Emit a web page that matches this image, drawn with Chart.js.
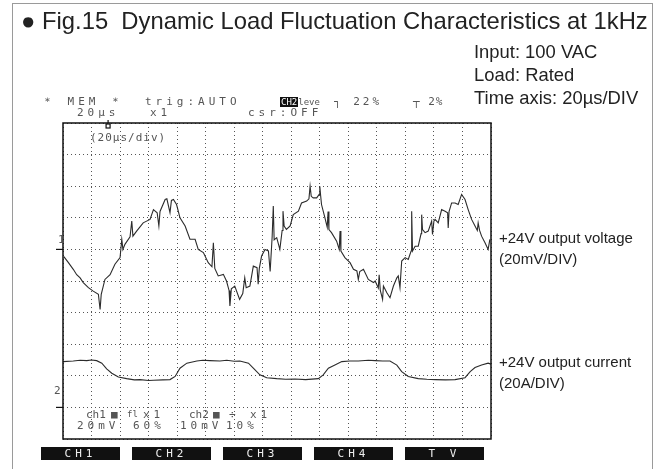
<!DOCTYPE html>
<html>
<head>
<meta charset="utf-8">
<script src="https://cdn.jsdelivr.net/npm/chart.js@4"></script>
<style>
  body { margin: 0; background: #fff; }
  #page { position: relative; width: 661px; height: 469px; overflow: hidden; font-family: "Liberation Sans", Arial, sans-serif; color: #222; }
  #frame { position: absolute; left: 12px; top: 3px; width: 641px; height: 480px; border: 1.5px solid #9a9a9a; box-sizing: border-box; }
  canvas { position: absolute; left: 0; top: 0; }
  .t { position: absolute; white-space: nowrap; }
  .scope { position: absolute; white-space: nowrap; font-family: "DejaVu Sans Mono", monospace; font-size: 11px; color: #555; letter-spacing: 4px; line-height: 11px; }
  .btn { position: absolute; top: 447px; width: 79px; height: 13px; background: #111; color: #eee; font-family: "DejaVu Sans Mono", monospace; font-size: 11px; line-height: 13px; text-align: center; letter-spacing: 4px; }
  .inv { background: #111; color: #fff; letter-spacing: 0; font-size: 9px; padding: 0 1px; }
</style>
</head>
<body>
<div id="page">
  <div id="frame"></div>
  <canvas id="scope" width="661" height="469"></canvas>

  <div class="t" style="left:21px; top:7px; font-size:23.8px;">● Fig.15&nbsp; Dynamic Load Fluctuation Characteristics at 1kHz</div>
  <div class="t" style="left:474px; top:41px; font-size:18.4px;">Input: 100 VAC</div>
  <div class="t" style="left:474px; top:64px; font-size:18.4px;">Load: Rated</div>
  <div class="t" style="left:474px; top:87px; font-size:18.4px;">Time axis: 20µs/DIV</div>

  <div class="t" style="left:499px; top:227px; font-size:15px; line-height:21px;">+24V output voltage<br>(20mV/DIV)</div>
  <div class="t" style="left:499px; top:351px; font-size:15px; line-height:21px;">+24V output current<br>(20A/DIV)</div>

  <div class="scope" style="left:42px; top:96px;">＊ MEM ＊</div>
  <div class="scope" style="left:145px; top:96px;">trig:AUTO</div>
  <div class="scope" style="left:280px; top:96px;"><span class="inv">CH2</span><span style="font-size:9px;letter-spacing:0">leve</span></div>
  <div class="scope" style="left:334px; top:96px; letter-spacing:3px;">┐ 22%</div>
  <div class="scope" style="left:413px; top:96px; letter-spacing:1px;">┬ 2%</div>
  <div class="scope" style="left:77px; top:107px;">20µs</div>
  <div class="scope" style="left:150px; top:107px;">x1</div>
  <div class="scope" style="left:248px; top:107px;">csr:OFF</div>
  <div class="scope" style="left:90px; top:132px; letter-spacing:1px;">(20µs/div)</div>

  <div class="scope" style="left:58px; top:234px; letter-spacing:0;">1</div>
  <div class="scope" style="left:54px; top:385px; letter-spacing:0;">2</div>

  <div class="scope" style="left:86px; top:409px; letter-spacing:0;">ch1</div>
  <div class="scope" style="left:111px; top:409px; letter-spacing:0;">■</div>
  <div class="scope" style="left:127px; top:409px; letter-spacing:0; font-size:9px;">fl</div>
  <div class="scope" style="left:143px; top:409px;">x1</div>
  <div class="scope" style="left:189px; top:409px; letter-spacing:0;">ch2</div>
  <div class="scope" style="left:213px; top:409px; letter-spacing:0;">■</div>
  <div class="scope" style="left:229px; top:409px; letter-spacing:0;">÷</div>
  <div class="scope" style="left:250px; top:409px;">x1</div>
  <div class="scope" style="left:77px; top:420px;">20mV</div>
  <div class="scope" style="left:133px; top:420px;">60%</div>
  <div class="scope" style="left:180px; top:420px;">10mV</div>
  <div class="scope" style="left:226px; top:420px;">10%</div>

  <div class="btn" style="left:41px;">CH1</div>
  <div class="btn" style="left:132px;">CH2</div>
  <div class="btn" style="left:223px;">CH3</div>
  <div class="btn" style="left:314px;">CH4</div>
  <div class="btn" style="left:405px;">T V</div>
</div>
<script>
// time in divisions (0..15), amplitude in divisions (0 = bottom, 10 = top)
const voltTime = [0.03, 0.19, 0.36, 0.48, 0.6, 0.71, 0.89, 1.06, 1.24, 1.30, 1.34, 1.47, 1.65, 1.82, 2.0, 2.06, 2.10, 2.17, 2.35, 2.41, 2.45, 2.58, 2.81, 3.05, 3.17, 3.30, 3.36, 3.40, 3.58, 3.64, 3.75, 3.80, 3.87, 3.98, 4.1, 4.28, 4.45, 4.63, 4.74, 4.92, 5.09, 5.22, 5.27, 5.32, 5.44, 5.62, 5.73, 5.82, 5.85, 5.9, 6.02, 6.19, 6.3, 6.37, 6.42, 6.55, 6.67, 6.80, 6.84, 6.88, 6.96, 7.08, 7.20, 7.26, 7.33, 7.37, 7.40, 7.49, 7.6, 7.68, 7.71, 7.75, 7.83, 7.96, 8.07, 8.25, 8.36, 8.54, 8.62, 8.66, 8.70, 8.77, 8.89, 8.98, 9.0, 9.03, 9.06, 9.18, 9.26, 9.29, 9.32, 9.41, 9.59, 9.68, 9.71, 9.74, 9.88, 10.06, 10.18, 10.30, 10.35, 10.40, 10.53, 10.7, 10.88, 10.94, 11.05, 11.08, 11.12, 11.17, 11.20, 11.23, 11.35, 11.46, 11.58, 11.70, 11.75, 11.81, 11.87, 11.99, 12.10, 12.2, 12.22, 12.25, 12.34, 12.45, 12.55, 12.57, 12.6, 12.69, 12.8, 12.92, 12.95, 13.0, 13.04, 13.15, 13.27, 13.39, 13.48, 13.5, 13.53, 13.62, 13.74, 13.85, 13.97, 14.09, 14.2, 14.32, 14.44, 14.52, 14.55, 14.6, 14.67, 14.79, 14.9, 14.96];
const voltLevel = [5.77, 5.58, 5.37, 5.2, 5.1, 4.95, 4.79, 4.68, 4.58, 4.1, 4.58, 5.05, 5.2, 5.53, 5.74, 6.32, 6.0, 6.16, 6.4, 6.9, 6.42, 6.58, 6.84, 6.95, 7.26, 7.16, 6.74, 7.2, 7.58, 7.6, 7.16, 7.55, 7.58, 7.42, 7.0, 6.74, 6.32, 6.32, 6.0, 5.9, 5.58, 5.45, 6.21, 5.4, 5.16, 5.21, 5.0, 4.7, 4.21, 4.75, 4.84, 4.42, 4.6, 5.1, 4.79, 4.84, 5.47, 5.42, 4.9, 5.4, 5.79, 6.0, 5.95, 5.3, 6.4, 7.37, 6.3, 6.37, 6.0, 6.6, 7.21, 6.74, 6.63, 6.74, 7.1, 7.21, 7.47, 7.53, 7.6, 8.0, 7.68, 7.63, 7.63, 7.74, 8.0, 7.7, 7.42, 7.0, 6.7, 7.2, 6.63, 6.53, 6.26, 6.0, 6.58, 5.95, 5.74, 5.58, 5.37, 5.32, 5.05, 5.3, 5.37, 5.05, 4.95, 5.0, 4.78, 5.2, 4.7, 4.53, 4.42, 4.84, 4.63, 4.47, 4.84, 5.1, 5.16, 4.79, 5.63, 5.74, 5.68, 5.95, 7.21, 5.95, 6.1, 6.1, 6.5, 7.1, 6.63, 6.53, 6.58, 6.9, 6.47, 6.9, 6.95, 6.84, 7.26, 7.21, 7.16, 6.68, 7.2, 7.47, 7.47, 7.42, 7.74, 7.58, 7.26, 6.95, 6.74, 6.6, 6.84, 6.6, 6.42, 6.21, 6.0, 6.32];

const currTime = [0, 0.36, 0.6, 0.83, 1.0, 1.18, 1.36, 1.53, 1.71, 1.94, 2.23, 2.5, 2.7, 3.0, 3.17, 3.5, 3.75, 3.93, 4.1, 4.34, 4.69, 4.9, 5.15, 5.5, 5.74, 6.0, 6.2, 6.5, 6.67, 6.9, 7.14, 7.49, 7.8, 8.13, 8.5, 8.95, 9.12, 9.3, 9.53, 9.77, 10.05, 10.35, 10.7, 10.94, 11.2, 11.46, 11.7, 11.87, 12.1, 12.45, 12.75, 13.04, 13.4, 13.74, 14.09, 14.27, 14.44, 14.67, 14.9, 15];
const currLevel = [2.45, 2.47, 2.49, 2.48, 2.50, 2.48, 2.40, 2.22, 2.08, 1.96, 1.91, 1.87, 1.88, 1.85, 1.86, 1.87, 1.88, 1.98, 2.24, 2.40, 2.47, 2.49, 2.48, 2.47, 2.49, 2.46, 2.47, 2.40, 2.24, 2.03, 1.94, 1.91, 1.89, 1.90, 1.88, 1.91, 2.03, 2.24, 2.34, 2.45, 2.47, 2.47, 2.49, 2.48, 2.47, 2.47, 2.34, 2.13, 1.98, 1.91, 1.89, 1.88, 1.87, 1.88, 1.94, 2.13, 2.26, 2.34, 2.40, 2.37];

const toPoints = (xs, ys) => xs.map((x, i) => ({ x: x, y: ys[i] }));

// solid frame round the whole graticule + channel ground markers
const framePlugin = {
  id: 'framePlugin',
  afterDraw(chart) {
    const { ctx, chartArea: a, scales } = chart;
    ctx.save();
    ctx.strokeStyle = '#111';
    ctx.lineWidth = 1.5;
    ctx.strokeRect(a.left, a.top, a.right - a.left, a.bottom - a.top);
    ctx.lineWidth = 1.2;
    [6, 1].forEach(v => {
      const y = scales.y.getPixelForValue(v);
      ctx.beginPath();
      ctx.moveTo(a.left - 7, y);
      ctx.lineTo(a.left, y);
      ctx.stroke();
    });
    // trigger position marker on the top edge
    const tx = scales.x.getPixelForValue(1.58);
    ctx.strokeRect(tx - 2, a.top + 1, 4, 4);
    ctx.beginPath();
    ctx.moveTo(tx, a.top - 3);
    ctx.lineTo(tx, a.top);
    ctx.stroke();
    ctx.restore();
  }
};

new Chart(document.getElementById('scope').getContext('2d'), {
  type: 'line',
  data: {
    datasets: [{
      label: '+24V output voltage',
      data: toPoints(voltTime, voltLevel),
      borderColor: '#2b2b2b',
      borderWidth: 1.1,
      pointRadius: 0,
      tension: 0
    }, {
      label: '+24V output current',
      data: toPoints(currTime, currLevel),
      borderColor: '#2b2b2b',
      borderWidth: 1.1,
      pointRadius: 0,
      tension: 0
    }]
  },
  options: {
    responsive: false,
    animation: false,
    layout: { padding: { left: 63, top: 123, right: 170, bottom: 30 } },
    plugins: { legend: { display: false }, tooltip: { enabled: false } },
    scales: {
      x: {
        type: 'linear', min: 0, max: 15,
        ticks: { display: false, stepSize: 1 },
        grid: { color: '#555', lineWidth: 1, drawTicks: false },
        border: { display: false, dash: [1, 3] }
      },
      y: {
        min: 0, max: 10,
        ticks: { display: false, stepSize: 1 },
        grid: { color: '#555', lineWidth: 1, drawTicks: false },
        border: { display: false, dash: [1, 3] }
      }
    }
  },
  plugins: [framePlugin]
});
</script>
</body>
</html>
